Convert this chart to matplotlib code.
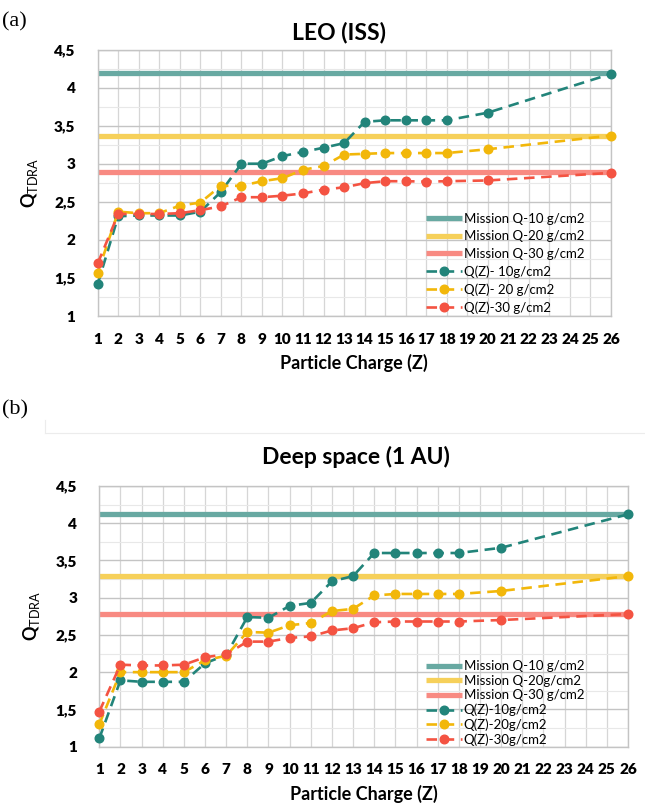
import matplotlib
matplotlib.use('Agg')
import matplotlib.pyplot as plt
from matplotlib.ticker import MultipleLocator, FixedLocator
from matplotlib.lines import Line2D

plt.rcParams['font.family'] = ['Lato', 'DejaVu Sans']
plt.rcParams['mathtext.fontset'] = 'custom'
plt.rcParams['mathtext.rm'] = 'Lato'
plt.rcParams['mathtext.bf'] = 'Lato:bold'

# particle charges with points
z_vals = [1, 2, 3, 4, 5, 6, 7, 8, 9, 10, 11, 12, 13, 14, 15, 16, 17, 18, 20, 26]
z_ticks = list(range(1, 27))
y_ticks = [1, 1.5, 2, 2.5, 3, 3.5, 4, 4.5]
y_tick_labels = ['1', '1,5', '2', '2,5', '3', '3,5', '4', '4,5']

# (a) LEO (ISS)
leo_mission = [4.19, 3.37, 2.89]
leo_q10 = [1.42, 2.31, 2.32, 2.32, 2.32, 2.37, 2.63, 3.0, 3.0, 3.10, 3.155, 3.21, 3.27,
           3.55, 3.57, 3.57, 3.57, 3.57, 3.67, 4.18]
leo_q20 = [1.57, 2.37, 2.35, 2.35, 2.45, 2.49, 2.71, 2.71, 2.77, 2.81, 2.92, 2.97, 3.12,
           3.13, 3.14, 3.14, 3.14, 3.14, 3.19, 3.37]
leo_q30 = [1.69, 2.34, 2.34, 2.34, 2.35, 2.39, 2.44, 2.56, 2.56, 2.58, 2.61, 2.66, 2.69,
           2.745, 2.77, 2.77, 2.765, 2.77, 2.78, 2.88]
leo_labels = ['Mission Q-10 g/cm2', 'Mission Q-20 g/cm2', 'Mission Q-30 g/cm2',
              'Q(Z)- 10g/cm2', 'Q(Z)- 20 g/cm2', 'Q(Z)-30 g/cm2']

# (b) Deep space (1 AU)
ds_mission = [4.12, 3.29, 2.785]
ds_q10 = [1.11, 1.89, 1.87, 1.87, 1.87, 2.12, 2.23, 2.74, 2.73, 2.89, 2.93, 3.22, 3.29,
          3.60, 3.60, 3.60, 3.60, 3.60, 3.67, 4.12]
ds_q20 = [1.30, 2.0, 2.0, 2.0, 2.0, 2.16, 2.22, 2.54, 2.53, 2.63, 2.66, 2.82, 2.85,
          3.03, 3.05, 3.05, 3.05, 3.05, 3.09, 3.29]
ds_q30 = [1.47, 2.10, 2.09, 2.09, 2.10, 2.20, 2.24, 2.41, 2.41, 2.46, 2.48, 2.56, 2.59,
          2.67, 2.68, 2.68, 2.68, 2.68, 2.70, 2.78]
ds_labels = ['Mission Q-10 g/cm2', 'Mission Q-20g/cm2', 'Mission Q-30 g/cm2',
             'Q(Z)-10g/cm2', 'Q(Z)-20g/cm2', 'Q(Z)-30g/cm2']

mission_colors = ['#68a9a2', '#f6d05a', '#f88a82']
curve_colors = ['#22847a', '#f2b70a', '#f45342']

W, H = 645, 810
fig = plt.figure(figsize=(W / 100, H / 100), dpi=100)


def px_axes(x0, y0, x1, y1):
    return fig.add_axes([x0 / W, 1 - y1 / H, (x1 - x0) / W, (y1 - y0) / H])


def draw_panel(ax, title, title_x, title_pad, mission, curves, labels, leg_pos, leg_spacing):
    ax.set_xlim(1, 26)
    ax.set_ylim(1, 4.5)
    ax.xaxis.set_major_locator(FixedLocator(z_ticks))
    ax.set_xticklabels([str(z) for z in z_ticks])
    ax.yaxis.set_major_locator(FixedLocator(y_ticks))
    ax.set_yticklabels(y_tick_labels)
    ax.yaxis.set_minor_locator(MultipleLocator(0.25))
    ax.grid(True, axis='y', which='major', color='#c4c4c4', lw=1.0)
    ax.grid(True, axis='y', which='minor', color='#e8e8e8', lw=0.8)
    ax.grid(True, axis='x', which='major', color='#d6d6d6', lw=0.9)
    ax.set_axisbelow(True)
    for s in ax.spines.values():
        s.set_color('#c4c4c4')
        s.set_linewidth(1.0)
    ax.tick_params(which='both', length=0)
    ax.tick_params(axis='y', pad=16, labelsize=11)
    ax.tick_params(axis='x', pad=12, labelsize=11)
    for t in ax.get_xticklabels() + ax.get_yticklabels():
        t.set_fontweight('heavy')

    handles = []
    for m, c in zip(mission, mission_colors):
        h = ax.axhline(m, color=c, lw=3.8, solid_capstyle='butt', zorder=2)
        handles.append(h)
    for vals, c in zip(curves, curve_colors):
        h, = ax.plot(z_vals, vals, color=c, lw=1.9, ls=(0, (4, 2.5)),
                     marker='o', ms=6.2, zorder=3, clip_on=False)
        handles.append(h)

    ax.set_title(title, fontsize=16.5, fontweight='bold', pad=title_pad, x=title_x)
    ax.set_xlabel('Particle Charge (Z)', fontsize=13, fontweight='bold', labelpad=6)
    ax.set_ylabel(r'$\mathbf{Q}_{\mathrm{TDRA}}$', fontsize=13, labelpad=10)

    fig.legend(handles, labels, loc='lower left',
               bbox_to_anchor=(leg_pos[0] / W, 1 - leg_pos[1] / H),
               frameon=False, fontsize=9.5, borderpad=0, borderaxespad=0,
               handlelength=2.7, handletextpad=0.15, labelspacing=leg_spacing)


ax1 = px_axes(97.7, 49.5, 611, 316)
draw_panel(ax1, 'LEO (ISS)', 0.47, 7, leo_mission, [leo_q10, leo_q20, leo_q30],
           leo_labels, (426, 314), 0.42)

ax2 = px_axes(99.3, 486, 628, 746.6)
draw_panel(ax2, 'Deep space (1 AU)', 0.485, 16, ds_mission, [ds_q10, ds_q20, ds_q30],
           ds_labels, (426, 746), 0.18)

fig.text(2 / W, 1 - 22 / H, '(a)', family='Liberation Serif', fontsize=16, va='center')
fig.text(2 / W, 1 - 410 / H, '(b)', family='Liberation Serif', fontsize=16, va='center')

# faint border of the embedded second chart
fig.add_artist(Line2D([45 / W, 1], [1 - 433 / H, 1 - 433 / H], color='#ececec', lw=0.8))
fig.add_artist(Line2D([45 / W, 45 / W], [1 - 433 / H, 1 - 420 / H], color='#ececec', lw=0.8))

fig.savefig('out.png', dpi=100)
